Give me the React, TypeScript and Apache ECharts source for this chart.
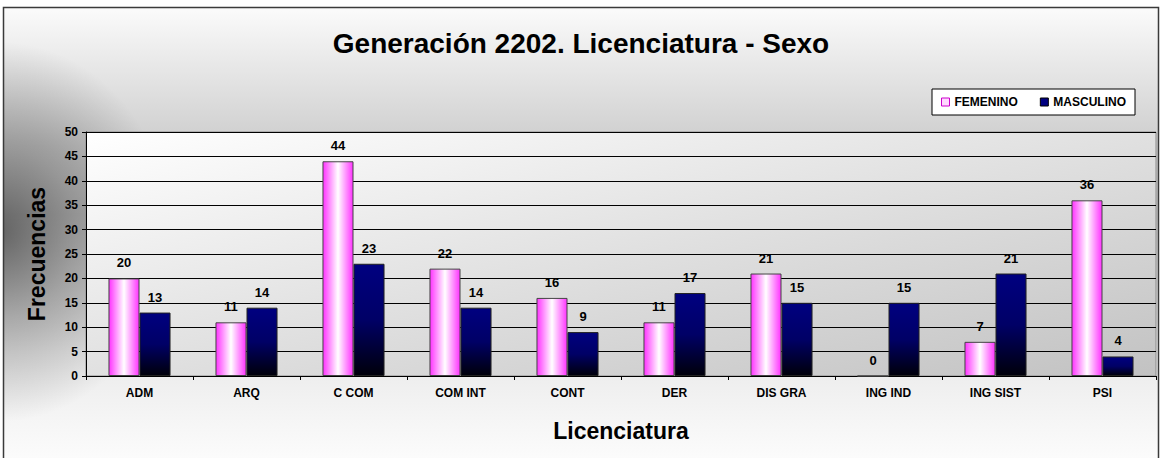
import React, { useEffect, useRef } from "react";
import * as echarts from "echarts";

const categories = ["ADM", "ARQ", "C COM", "COM INT", "CONT", "DER", "DIS GRA", "ING IND", "ING SIST", "PSI"];
const femenino = [20, 11, 44, 22, 16, 11, 21, 0, 7, 36];
const masculino = [13, 14, 23, 14, 9, 17, 15, 15, 21, 4];
const seriesNames = ["FEMENINO", "MASCULINO"];
const titleText = "Generación 2202. Licenciatura - Sexo";
const yAxisName = "Frecuencias";
const xAxisName = "Licenciatura";

const FONT = "'Liberation Sans', Arial, Helvetica, sans-serif";

export default function App() {
  const ref = useRef<HTMLDivElement>(null);
  useEffect(() => {
    if (!ref.current) return;
    const chart = echarts.init(ref.current, undefined, { renderer: "svg" });
    const labelStyle = {
      show: true,
      position: "top" as const,
      distance: 9,
      color: "#000",
      fontFamily: FONT,
      fontWeight: "bold" as const,
      fontSize: 13,
    };
    chart.setOption({
      animation: false,
      textStyle: { fontFamily: FONT },
      graphic: [
        {
          type: "rect",
          z: -10,
          silent: true,
          shape: { x: 3.5, y: 7.5, width: 1155, height: 460 },
          style: {
            fill: new echarts.graphic.LinearGradient(0, 0, 0, 1, [
              { offset: 0, color: "#fbfbfb" },
              { offset: 0.3, color: "#cdcdcd" },
              { offset: 0.45, color: "#c4c4c4" },
              { offset: 0.75, color: "#eaeaea" },
              { offset: 1, color: "#fdfdfd" },
            ]),
          },
        },
        {
          type: "ellipse",
          z: -9,
          silent: true,
          shape: { cx: 0, cy: 232, rx: 170, ry: 190 },
          style: {
            fill: new echarts.graphic.RadialGradient(0.5, 0.5, 0.5, [
              { offset: 0, color: "rgba(0,0,0,0.5)" },
              { offset: 0.45, color: "rgba(0,0,0,0.25)" },
              { offset: 1, color: "rgba(0,0,0,0)" },
            ]),
          },
        },
        {
          type: "rect",
          z: -8,
          silent: true,
          shape: { x: 0, y: 0, width: 3.5, height: 458 },
          style: { fill: "#ffffff" },
        },
        {
          type: "rect",
          z: -7,
          silent: true,
          shape: { x: 3.5, y: 7.5, width: 1155, height: 460 },
          style: { fill: "none", stroke: "#3a3a3a", lineWidth: 1.5 },
        },
      ],
      title: {
        text: titleText,
        left: "center",
        top: 24,
        textStyle: { fontFamily: FONT, fontWeight: "bold", fontSize: 28, color: "#000" },
      },
      legend: {
        right: 27,
        top: 89,
        padding: [7, 9, 7, 9],
        itemGap: 22,
        itemWidth: 8,
        itemHeight: 8,
        backgroundColor: "#ffffff",
        borderColor: "#000",
        borderWidth: 1,
        textStyle: { fontFamily: FONT, fontWeight: "bold", fontSize: 12, color: "#000" },
        data: [
          { name: seriesNames[0], icon: "rect", itemStyle: { color: "#ffd9ff", borderColor: "#cc00cc", borderWidth: 1 } },
          { name: seriesNames[1], icon: "rect", itemStyle: { color: "#000080", borderColor: "#000", borderWidth: 1 } },
        ],
      },
      grid: {
        left: 86,
        right: 6,
        top: 132,
        bottom: 82,
        show: true,
        backgroundColor: new echarts.graphic.LinearGradient(0, 0, 1, 1, [
          { offset: 0, color: "#ffffff" },
          { offset: 1, color: "#c2c2c2" },
        ]),
        borderColor: "#8a8a8a",
        borderWidth: 1,
      },
      xAxis: {
        type: "category",
        data: categories,
        name: xAxisName,
        nameLocation: "middle",
        nameGap: 43,
        nameTextStyle: { fontFamily: FONT, fontWeight: "bold", fontSize: 23, color: "#000" },
        axisLine: { lineStyle: { color: "#000", width: 1 } },
        axisTick: { show: true, length: 4, lineStyle: { color: "#000" } },
        axisLabel: { margin: 11, fontFamily: FONT, fontWeight: "bold", fontSize: 12, color: "#000" },
      },
      yAxis: {
        type: "value",
        min: 0,
        max: 50,
        interval: 5,
        name: yAxisName,
        nameLocation: "middle",
        nameRotate: 90,
        nameGap: 38,
        nameTextStyle: { fontFamily: FONT, fontWeight: "bold", fontSize: 23, color: "#000" },
        axisLine: { show: true, lineStyle: { color: "#000", width: 1 } },
        axisTick: { show: true, length: 4, lineStyle: { color: "#000" } },
        axisLabel: { margin: 8, fontFamily: FONT, fontWeight: "bold", fontSize: 12, color: "#000" },
        splitLine: { show: true, lineStyle: { color: "#000", width: 1 } },
      },
      series: [
        {
          name: seriesNames[0],
          type: "bar",
          data: femenino,
          barGap: "0%",
          barCategoryGap: "42%",
          itemStyle: {
            color: new echarts.graphic.LinearGradient(0, 0, 1, 0, [
              { offset: 0, color: "#ff33ff" },
              { offset: 0.5, color: "#ffffff" },
              { offset: 1, color: "#ff33ff" },
            ]),
            borderColor: "#444",
            borderWidth: 1,
          },
          label: labelStyle,
        },
        {
          name: seriesNames[1],
          type: "bar",
          data: masculino,
          barGap: "0%",
          barCategoryGap: "42%",
          itemStyle: {
            color: new echarts.graphic.LinearGradient(0, 0, 0, 1, [
              { offset: 0, color: "#000080" },
              { offset: 0.5, color: "#000066" },
              { offset: 1, color: "#00000a" },
            ]),
            borderColor: "#222",
            borderWidth: 1,
          },
          label: labelStyle,
        },
      ],
    });
    return () => chart.dispose();
  }, []);
  return (
    <div
      ref={ref}
      style={{ position: "fixed", left: 0, top: 0, width: 1162, height: 458, background: "#ffffff" }}
    />
  );
}
